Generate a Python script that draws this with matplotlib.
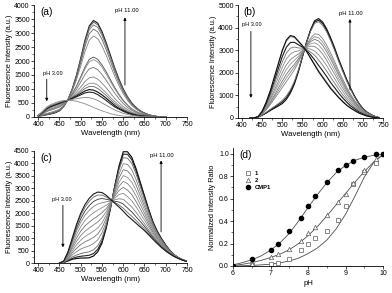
import numpy as np
import matplotlib
matplotlib.use("Agg")
import matplotlib.pyplot as plt
from matplotlib.ticker import MultipleLocator

plt.rcParams['font.family'] = ['Liberation Sans', 'DejaVu Sans']

# ---- panel (a): spectra, pH 11 (top) ... pH 3 (bottom)
wl_a = [400, 410, 420, 430, 440, 450, 460, 470, 480, 490, 500, 510, 520, 530, 540, 550,
        560, 570, 580, 590, 600, 610, 620, 630, 640, 650, 660, 670, 680, 690, 700]
spectra_a = [
    [30, 50, 80, 110, 150, 220, 380, 620, 1000, 1500, 2100, 2750, 3250, 3450, 3350, 3050, 2650, 2200, 1750, 1350, 1000, 720, 500, 340, 220, 140, 80, 45, 20, 8, 0],
    [30, 50, 90, 120, 160, 230, 380, 620, 990, 1480, 2070, 2700, 3190, 3390, 3290, 2990, 2600, 2160, 1720, 1320, 980, 710, 490, 330, 220, 140, 80, 40, 20, 8, 0],
    [30, 60, 90, 130, 170, 240, 390, 620, 980, 1450, 2020, 2640, 3110, 3290, 3200, 2910, 2530, 2100, 1670, 1290, 950, 690, 480, 320, 210, 130, 80, 40, 20, 8, 0],
    [30, 60, 110, 140, 190, 250, 400, 620, 960, 1410, 1940, 2520, 2970, 3140, 3040, 2770, 2400, 1990, 1580, 1220, 900, 650, 450, 310, 200, 130, 70, 40, 20, 7, 0],
    [40, 80, 130, 170, 220, 280, 420, 620, 930, 1330, 1820, 2340, 2740, 2890, 2800, 2540, 2200, 1830, 1450, 1120, 830, 590, 410, 280, 180, 110, 70, 40, 16, 7, 0],
    [40, 110, 200, 250, 300, 360, 470, 610, 830, 1110, 1440, 1790, 2060, 2140, 2060, 1860, 1610, 1330, 1050, 810, 600, 430, 290, 200, 130, 80, 50, 30, 10, 5, 0],
    [40, 120, 210, 260, 310, 370, 470, 610, 820, 1080, 1390, 1720, 1970, 2050, 1970, 1780, 1530, 1260, 1000, 770, 570, 410, 280, 190, 120, 80, 40, 25, 10, 4, 0],
    [50, 130, 230, 290, 340, 400, 490, 610, 780, 990, 1250, 1520, 1720, 1770, 1690, 1520, 1310, 1080, 850, 650, 480, 340, 240, 160, 100, 60, 40, 20, 10, 4, 0],
    [50, 150, 260, 330, 380, 440, 520, 610, 730, 890, 1070, 1270, 1400, 1430, 1350, 1210, 1040, 850, 660, 510, 370, 270, 180, 120, 80, 50, 30, 20, 7, 3, 0],
    [50, 160, 280, 350, 410, 460, 530, 610, 700, 820, 960, 1110, 1200, 1210, 1140, 1010, 860, 700, 550, 420, 310, 220, 150, 100, 60, 40, 20, 10, 6, 2, 0],
    [50, 160, 290, 370, 420, 480, 540, 600, 690, 790, 900, 1020, 1090, 1090, 1020, 900, 770, 620, 480, 370, 270, 190, 130, 85, 50, 30, 20, 10, 5, 2, 0],
    [50, 170, 300, 380, 440, 490, 550, 600, 670, 750, 840, 930, 980, 960, 890, 790, 670, 540, 410, 310, 230, 160, 110, 70, 40, 30, 20, 10, 4, 2, 0],
    [50, 170, 310, 390, 450, 500, 550, 600, 660, 720, 790, 860, 890, 870, 800, 700, 590, 470, 360, 280, 200, 140, 90, 60, 40, 20, 10, 8, 3, 1, 0],
    [60, 190, 330, 420, 470, 530, 570, 600, 630, 650, 680, 700, 690, 650, 590, 500, 420, 330, 250, 190, 130, 90, 60, 40, 20, 10, 8, 5, 2, 1, 0],
    [60, 200, 360, 450, 510, 560, 590, 600, 590, 560, 520, 470, 410, 340, 280, 220, 170, 120, 80, 55, 35, 20, 10, 5, 0, 0, 0, 0, 0, 0, 0],
]
colors_a = ['0.1', '0.35', '0.45', '0.4', '0.5', '0.3', '0.55', '0.45', '0.5', '0.55',
            '0.4', '0.05', '0.15', '0.5', '0.55']

# ---- panel (b)
wl_b = [420, 430, 440, 450, 460, 470, 480, 490, 500, 510, 520, 530, 540, 550, 560, 570, 580,
        590, 600, 610, 620, 630, 640, 650, 660, 670, 680, 690, 700, 710, 720, 730, 740]
spectra_b = [
    [0, 10, 40, 120, 220, 330, 430, 530, 640, 820, 1100, 1500, 2050, 2700, 3350, 3900, 4300, 4400, 4250, 3950, 3550, 3100, 2600, 2150, 1700, 1300, 950, 650, 420, 260, 150, 70, 20],
    [0, 10, 40, 130, 230, 360, 470, 590, 710, 900, 1180, 1560, 2090, 2720, 3340, 3860, 4240, 4330, 4180, 3880, 3480, 3040, 2550, 2110, 1670, 1270, 930, 640, 410, 260, 150, 70, 20],
    [0, 10, 40, 130, 250, 380, 510, 640, 780, 980, 1250, 1630, 2130, 2730, 3330, 3830, 4180, 4260, 4100, 3810, 3420, 2980, 2500, 2060, 1630, 1250, 910, 620, 400, 250, 140, 70, 20],
    [0, 10, 50, 170, 360, 590, 840, 1090, 1350, 1610, 1870, 2130, 2460, 2850, 3230, 3530, 3720, 3700, 3520, 3230, 2880, 2500, 2090, 1720, 1360, 1040, 760, 520, 340, 210, 120, 55, 10],
    [0, 10, 50, 180, 390, 640, 920, 1200, 1490, 1770, 2020, 2260, 2540, 2880, 3210, 3450, 3600, 3550, 3370, 3090, 2740, 2380, 1990, 1640, 1290, 990, 720, 500, 320, 200, 110, 50, 10],
    [0, 10, 50, 200, 420, 700, 1000, 1320, 1630, 1930, 2170, 2380, 2620, 2910, 3180, 3380, 3480, 3410, 3220, 2940, 2610, 2260, 1890, 1550, 1220, 940, 690, 470, 310, 190, 110, 50, 10],
    [0, 5, 50, 210, 460, 770, 1120, 1470, 1820, 2140, 2380, 2550, 2730, 2950, 3150, 3280, 3330, 3230, 3030, 2750, 2430, 2100, 1750, 1440, 1130, 870, 640, 440, 290, 180, 100, 45, 10],
    [0, 0, 50, 220, 500, 840, 1220, 1610, 2010, 2350, 2580, 2720, 2830, 2990, 3120, 3180, 3170, 3040, 2830, 2560, 2240, 1940, 1610, 1320, 1040, 800, 590, 400, 260, 160, 90, 40, 10],
    [0, 0, 50, 240, 550, 920, 1360, 1800, 2240, 2610, 2830, 2930, 2970, 3040, 3080, 3050, 2970, 2800, 2580, 2320, 2020, 1740, 1440, 1180, 920, 710, 520, 360, 240, 140, 80, 40, 10],
    [0, 0, 60, 260, 590, 1010, 1500, 1990, 2480, 2870, 3090, 3140, 3100, 3090, 3040, 2920, 2780, 2570, 2340, 2080, 1800, 1540, 1270, 1030, 810, 620, 460, 320, 210, 130, 70, 30, 0],
    [0, 0, 60, 280, 640, 1100, 1640, 2180, 2720, 3130, 3340, 3350, 3240, 3140, 3000, 2800, 2580, 2330, 2090, 1840, 1570, 1340, 1100, 890, 700, 530, 400, 270, 180, 110, 60, 30, 0],
    [0, 0, 60, 300, 690, 1180, 1770, 2360, 2950, 3400, 3600, 3560, 3370, 3190, 2960, 2680, 2390, 2100, 1850, 1600, 1350, 1140, 930, 750, 580, 450, 330, 230, 160, 90, 50, 20, 0],
    [0, 0, 60, 300, 700, 1200, 1800, 2400, 3000, 3450, 3650, 3600, 3400, 3200, 2950, 2650, 2350, 2050, 1800, 1550, 1300, 1100, 900, 720, 560, 430, 320, 220, 150, 90, 50, 20, 0],
]
colors_b = ['0.05', '0.1', '0.45', '0.5', '0.55', '0.45', '0.6', '0.5', '0.55', '0.45',
            '0.1', '0.5', '0.05']

# ---- panel (c)
wl_c = [450, 460, 470, 480, 490, 500, 510, 520, 530, 540, 550, 560, 570, 580, 590, 600,
        610, 620, 630, 640, 650, 660, 670, 680, 690, 700, 710, 720, 730, 740, 750]
spectra_c = [
    [0, 20, 80, 150, 180, 200, 200, 210, 280, 450, 800, 1400, 2200, 3100, 3900, 4470, 4470, 4250, 3800, 3250, 2700, 2150, 1650, 1280, 980, 720, 500, 330, 210, 130, 70],
    [0, 20, 100, 180, 240, 270, 290, 310, 380, 550, 880, 1450, 2210, 3070, 3830, 4370, 4370, 4150, 3710, 3180, 2640, 2110, 1620, 1260, 970, 710, 490, 330, 210, 130, 70],
    [0, 30, 120, 240, 320, 380, 420, 450, 530, 690, 1000, 1530, 2240, 3030, 3740, 4230, 4210, 4000, 3580, 3070, 2560, 2050, 1580, 1230, 940, 700, 490, 320, 210, 130, 70],
    [0, 30, 150, 320, 450, 560, 630, 690, 780, 930, 1210, 1660, 2270, 2960, 3570, 3990, 3960, 3750, 3360, 2890, 2420, 1950, 1510, 1180, 910, 670, 470, 320, 200, 130, 70],
    [0, 40, 190, 410, 590, 740, 850, 930, 1030, 1170, 1410, 1800, 2310, 2890, 3410, 3750, 3700, 3500, 3140, 2710, 2280, 1840, 1440, 1130, 870, 650, 460, 310, 200, 120, 70],
    [0, 40, 230, 490, 730, 920, 1060, 1170, 1280, 1410, 1610, 1930, 2340, 2820, 3240, 3510, 3440, 3250, 2920, 2530, 2140, 1740, 1370, 1080, 840, 620, 440, 300, 200, 120, 70],
    [0, 50, 270, 580, 870, 1100, 1280, 1410, 1530, 1650, 1820, 2060, 2380, 2750, 3080, 3280, 3190, 3000, 2700, 2350, 2000, 1640, 1300, 1030, 800, 600, 430, 300, 200, 120, 60],
    [0, 60, 300, 660, 1000, 1280, 1490, 1640, 1770, 1890, 2020, 2190, 2420, 2680, 2910, 3040, 2930, 2750, 2480, 2170, 1860, 1540, 1230, 980, 760, 580, 420, 290, 190, 120, 60],
    [0, 60, 340, 750, 1140, 1460, 1710, 1880, 2020, 2130, 2220, 2320, 2450, 2610, 2750, 2800, 2670, 2500, 2260, 1990, 1720, 1440, 1160, 930, 730, 550, 400, 280, 190, 120, 60],
    [0, 70, 380, 830, 1280, 1640, 1920, 2120, 2270, 2370, 2420, 2460, 2490, 2540, 2580, 2560, 2410, 2250, 2040, 1810, 1580, 1330, 1090, 880, 690, 530, 390, 270, 190, 110, 60],
    [0, 70, 410, 900, 1390, 1780, 2090, 2310, 2470, 2560, 2590, 2560, 2520, 2480, 2450, 2370, 2210, 2050, 1860, 1670, 1470, 1250, 1030, 840, 660, 510, 380, 270, 180, 110, 60],
    [0, 80, 430, 960, 1480, 1910, 2240, 2480, 2650, 2730, 2730, 2650, 2540, 2440, 2330, 2200, 2030, 1880, 1710, 1540, 1370, 1180, 990, 810, 640, 490, 370, 260, 180, 110, 60],
    [0, 80, 450, 1000, 1550, 2000, 2350, 2600, 2770, 2850, 2830, 2720, 2560, 2400, 2250, 2080, 1900, 1750, 1600, 1450, 1300, 1130, 950, 780, 620, 480, 360, 260, 180, 110, 60],
]
colors_c = ['0.0', '0.15', '0.4', '0.5', '0.45', '0.55', '0.5', '0.45', '0.55', '0.5',
            '0.2', '0.4', '0.1']

# ---- panel (d): normalized ratio vs pH
ph_pts = [6.0, 6.5, 7.0, 7.2, 7.5, 7.8, 8.0, 8.2, 8.5, 8.8, 9.0, 9.2, 9.5, 9.8, 10.0]
ratio_1 = [0.0, 0.01, 0.02, 0.03, 0.065, 0.14, 0.20, 0.25, 0.31, 0.41, 0.53, 0.73, 0.84, 0.92, 1.0]
ratio_2 = [0.0, 0.02, 0.08, 0.105, 0.155, 0.22, 0.29, 0.35, 0.45, 0.57, 0.64, 0.74, 0.85, 0.95, 1.0]
ratio_cmp1 = [0.0, 0.06, 0.145, 0.20, 0.31, 0.43, 0.53, 0.62, 0.75, 0.85, 0.90, 0.935, 0.97, 0.995, 1.0]

ph_fit = [6.0, 6.25, 6.5, 6.75, 7.0, 7.25, 7.5, 7.75, 8.0, 8.25, 8.5, 8.75, 9.0, 9.25, 9.5, 9.75, 10.0]
fit_1 = [0.0, 0.002, 0.005, 0.01, 0.016, 0.027, 0.045, 0.07, 0.11, 0.16, 0.23, 0.33, 0.46, 0.62, 0.79, 0.92, 0.99]
fit_2 = [0.005, 0.015, 0.03, 0.05, 0.075, 0.105, 0.145, 0.20, 0.27, 0.35, 0.445, 0.545, 0.645, 0.745, 0.84, 0.925, 0.995]
fit_cmp1 = [0.01, 0.03, 0.055, 0.09, 0.14, 0.205, 0.29, 0.40, 0.52, 0.635, 0.74, 0.83, 0.895, 0.94, 0.968, 0.985, 0.995]

W, H = 392.0, 293.0
fig = plt.figure(figsize=(W / 100, H / 100), dpi=100)


def make_axes(x0, x1, y_bot, y_top):
    return fig.add_axes([x0 / W, 1 - y_bot / H, (x1 - x0) / W, (y_bot - y_top) / H])


def style(ax, xmaj, ymaj):
    for s in ['top', 'right']:
        ax.spines[s].set_visible(False)
    for s in ['left', 'bottom']:
        ax.spines[s].set_linewidth(0.6)
    ax.xaxis.set_major_locator(MultipleLocator(xmaj))
    ax.xaxis.set_minor_locator(MultipleLocator(xmaj / 2))
    ax.yaxis.set_major_locator(MultipleLocator(ymaj))
    ax.yaxis.set_minor_locator(MultipleLocator(ymaj / 2))
    ax.tick_params(which='major', direction='out', length=2, width=0.5, labelsize=5, pad=1)
    ax.tick_params(which='minor', direction='out', length=1.2, width=0.4)


def arrow(ax, x, y0, y1):
    ax.annotate('', xy=(x, y1), xytext=(x, y0),
                arrowprops=dict(arrowstyle='-|>', lw=0.6, color='black', mutation_scale=4,
                                shrinkA=0, shrinkB=0))


panels = [
    (make_axes(34, 187, 117, 5), wl_a, spectra_a, colors_a, 4000, 500, '(a)',
     (420, 1350, 560), (412, 1560), (604, 1140, 3560), (581, 3820)),
    (make_axes(238, 383, 118, 5), wl_b, spectra_b, colors_b, 5000, 1000, '(b)',
     (422, 3830, 890), (400, 4130), (668, 1250, 4380), (640, 4620)),
    (make_axes(34, 187, 263, 151), wl_c, spectra_c, colors_c, 4500, 500, '(c)',
     (458, 2320, 630), (433, 2560), (689, 1250, 4120), (663, 4330)),
]

for ax, wl, spectra, cols, ytop, ymaj, tag, a3, t3, a11, t11 in panels:
    for ys, c in zip(spectra, cols):
        lw = 0.8 if float(c) < 0.2 else 0.6
        ax.plot(wl, ys, color=c, lw=lw)
    ax.set_xlim(390, 750)
    ax.set_ylim(0, ytop)
    style(ax, 50, ymaj)
    ax.set_xlabel('Wavelength (nm)', fontsize=5.6, labelpad=1.5)
    ax.set_ylabel('Fluorescence Intensity (a.u.)', fontsize=5.3, labelpad=1)
    ax.text(0.04, 0.985, tag, transform=ax.transAxes, fontsize=7.3, va='top', ha='left')
    arrow(ax, *a3)
    ax.text(t3[0], t3[1], 'pH 3.00', fontsize=4, va='center', ha='left')
    arrow(ax, *a11)
    ax.text(t11[0], t11[1], 'pH 11.00', fontsize=4.2, va='center', ha='left')

ax_d = make_axes(233, 383, 266, 148)
ax_d.plot(ph_fit, fit_1, color='0.3', lw=0.6)
ax_d.plot(ph_fit, fit_2, color='0.3', lw=0.6)
ax_d.plot(ph_fit, fit_cmp1, color='0.3', lw=0.6)
ax_d.plot(ph_pts, ratio_1, 's', ms=3, mfc='white', mec='0.35', mew=0.5, ls='none', label='1')
ax_d.plot(ph_pts, ratio_2, '^', ms=3.2, mfc='white', mec='0.35', mew=0.5, ls='none', label='2')
ax_d.plot(ph_pts, ratio_cmp1, 'o', ms=3, color='black', ls='none', label='CMP1')
ax_d.set_xlim(6, 10)
ax_d.set_ylim(0, 1.05)
style(ax_d, 1, 0.2)
ax_d.set_xlabel('pH', fontsize=5.6, labelpad=2)
ax_d.set_ylabel('Normalized Intensity Ratio', fontsize=5.3, labelpad=2)
ax_d.text(0.04, 0.985, '(d)', transform=ax_d.transAxes, fontsize=7.3, va='top', ha='left')
ax_d.legend(loc='upper left', bbox_to_anchor=(0.05, 0.84), frameon=False,
            prop={'size': 4.2, 'weight': 'bold'}, handlelength=1.2, handletextpad=0.6,
            labelspacing=0.3, borderpad=0.2)

fig.savefig('out.png', dpi=100)
